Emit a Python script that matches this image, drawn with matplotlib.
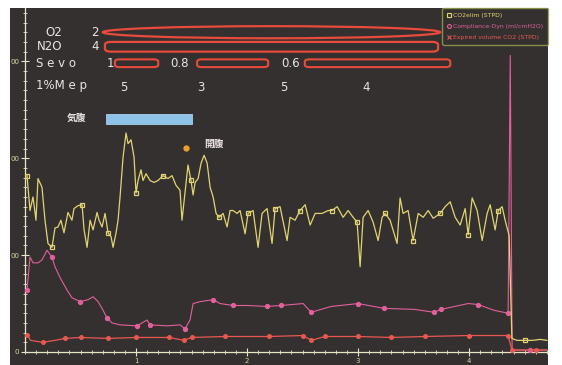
import numpy as np
import matplotlib
matplotlib.use("Agg")
import matplotlib.pyplot as plt
from matplotlib.patches import Ellipse, FancyBboxPatch, Rectangle
from matplotlib.lines import Line2D

# ---------------- data ----------------
co2_t = [0.018, 0.045, 0.072, 0.099, 0.117, 0.153, 0.18, 0.207, 0.243, 0.27, 0.297, 0.324,
         0.351, 0.387, 0.423, 0.441, 0.477, 0.514, 0.532, 0.559, 0.586, 0.613, 0.649, 0.667,
         0.694, 0.721, 0.748, 0.775, 0.793, 0.82, 0.838, 0.856, 0.883, 0.91, 0.928, 0.955,
         0.982, 1.0, 1.018, 1.045, 1.063, 1.09, 1.126, 1.162, 1.198, 1.243, 1.288, 1.324,
         1.36, 1.396, 1.414, 1.441, 1.468, 1.495, 1.514, 1.532, 1.559, 1.586, 1.613, 1.64,
         1.667, 1.694, 1.721, 1.748, 1.784, 1.82, 1.847, 1.874, 1.91, 1.937, 1.982, 2.009,
         2.054, 2.099, 2.135, 2.18, 2.225, 2.252, 2.297, 2.36, 2.387, 2.432, 2.477, 2.523,
         2.568, 2.613, 2.676, 2.73, 2.766, 2.811, 2.865, 2.91, 2.955, 2.991, 3.018, 3.045,
         3.09, 3.135, 3.18, 3.216, 3.243, 3.288, 3.351, 3.378, 3.405, 3.45, 3.495, 3.541,
         3.586, 3.631, 3.676, 3.739, 3.784, 3.829, 3.874, 3.919, 3.964, 3.991, 4.027, 4.072,
         4.117, 4.162, 4.189, 4.234, 4.262, 4.297, 4.324, 4.36, 4.385, 4.43, 4.5, 4.57,
         4.64, 4.7]
co2_v = [182, 146, 160, 136, 179, 170, 136, 112, 108, 128, 129, 136,
         123, 144, 136, 148, 151, 152, 126, 108, 136, 126, 144, 136,
         129, 143, 123, 119, 108, 123, 136, 160, 201, 226, 215, 219,
         201, 164, 177, 188, 177, 184, 177, 175, 177, 182, 179, 182,
         172, 167, 136, 164, 193, 177, 162, 175, 179, 195, 203, 195,
         170, 160, 143, 139, 143, 129, 146, 146, 143, 146, 122, 143,
         146, 108, 143, 148, 112, 148, 150, 115, 139, 136, 146, 152,
         131, 143, 143, 146, 146, 150, 139, 146, 139, 134, 88, 139,
         146, 134, 115, 139, 143, 136, 112, 159, 143, 146, 115, 143,
         139, 146, 138, 143, 150, 155, 139, 131, 148, 121, 159, 146,
         115, 143, 152, 126, 146, 150, 136, 120, 14, 12, 12, 12,
         13, 12]

comp_t = [0.018, 0.045, 0.072, 0.117, 0.153, 0.198, 0.243, 0.27, 0.315, 0.378, 0.423,
          0.495, 0.568, 0.613, 0.658, 0.694, 0.739, 0.784, 0.856, 1.009, 1.099, 1.126,
          1.279, 1.396, 1.441, 1.486, 1.514, 1.577, 1.694, 1.757, 1.874, 2.0, 2.18,
          2.306, 2.505, 2.577, 2.757, 3.0, 3.234, 3.505, 3.685, 3.748, 3.991, 4.081,
          4.225, 4.351, 4.37, 4.387, 4.45, 4.55, 4.63, 4.7]
comp_v = [64, 98, 92, 92, 95, 105, 98, 88, 77, 64, 56,
          52, 54, 57, 52, 45, 35, 30, 28, 27, 33, 28,
          27, 28, 24, 33, 50, 52, 54, 50, 48, 48, 47,
          48, 50, 41, 47, 50, 45, 44, 41, 44, 50, 49,
          43, 40, 306, 2, 2, 2, 2, 2]

exp_t = [0.018, 0.05, 0.16, 0.27, 0.36, 0.5, 0.75, 1.0, 1.3, 1.43, 1.5, 1.8, 2.2, 2.5,
         2.58, 2.7, 3.0, 3.3, 3.6, 4.0, 4.35, 4.385, 4.5, 4.6, 4.7]
exp_v = [18, 12, 10, 12, 14, 15, 14, 15, 15, 12, 15, 16, 16, 17,
         12, 16, 16, 15, 16, 17, 17, 2, 2, 2, 2]

series_labels = ["CO2elim (STPD)", "Compliance-Dyn (ml/cmH2O)", "Expired volume CO2 (STPD)"]

o2_label, o2_value = "O2", "2"
n2o_label, n2o_value = "N2O", "4"
sevo_label = "S e v o"
sevo_values = ["1", "0.8", "0.6"]
mep_label = "1%M e p"
mep_values = ["5", "3", "5", "4"]
event1, event2 = "気腹", "開腹"
yticks = [0, 100, 200, 300]
ytick_labels = ["0", "00", "00", "00"]
xticks = [1, 2, 3, 4]
xtick_labels = ["1", "2", "3", "4"]

# ---------------- style ----------------
BG = "#34302f"
YEL = "#e2d472"
PINK = "#e2609c"
RED = "#e85850"
TXT = "#ece4e4"
OUT = "#e84a3c"
AXC = "#e8e4c8"

plt.rcParams['font.family'] = ['DejaVu Sans', 'Noto Sans CJK JP']

fig = plt.figure(figsize=(5.62, 3.65), dpi=100, facecolor="white")
bgrect = Rectangle((10 / 562, 0), (548 - 10) / 562, 357 / 365,
                   transform=fig.transFigure, facecolor=BG, edgecolor="none", zorder=-10)
fig.patches.append(bgrect)

ax = fig.add_axes([25 / 562, 13 / 365, (548 - 25) / 562, (357 - 13) / 365])
ax.set_zorder(1)
ax.set_facecolor(BG)
ax.patch.set_alpha(0)
ax.set_xlim(0, 4.71)
ax.set_ylim(0, 355)

# series
def marker_idx(ts, step, start=0.0):
    ts = np.asarray(ts)
    idx = []
    for m in np.arange(start, ts.max() + 1e-9, step):
        i = int(np.argmin(np.abs(ts - m)))
        if i not in idx:
            idx.append(i)
    return idx

ax.plot(co2_t, co2_v, color=YEL, lw=0.9, marker="s", ms=3.2, mfc="none", mec=YEL, mew=0.9,
        markevery=marker_idx(co2_t, 0.25), zorder=4)
ax.plot(comp_t, comp_v, color=PINK, lw=0.8, marker="o", ms=2.8, mfc=PINK, mec=PINK,
        markevery=marker_idx(comp_t, 0.24), zorder=3)
ax.plot(exp_t, exp_v, color=RED, lw=0.9, marker="o", ms=2.6, mfc=RED, mec=RED,
        markevery=marker_idx(exp_t, 0.2), zorder=3)

# spines / ticks
for s in ["top", "right"]:
    ax.spines[s].set_visible(False)
for s in ["left", "bottom"]:
    ax.spines[s].set_color(AXC)
    ax.spines[s].set_linewidth(0.9)
ax.set_yticks(yticks)
ax.set_yticklabels(ytick_labels)
ax.set_yticks(np.arange(0, 351, 10), minor=True)
ax.set_xticks(xticks)
ax.set_xticklabels(xtick_labels)
ax.set_xticks(np.arange(0, 4.71, 0.1), minor=True)
ax.tick_params(axis="both", which="major", direction="inout", length=6, width=0.8,
               colors=AXC, labelsize=5, pad=1, labelcolor="#d8d8a0")
ax.tick_params(axis="both", which="minor", direction="inout", length=3, width=0.6, colors=AXC)

# gas / drug annotations
fs = 8.5
ax.text(0.18, 330, o2_label, color=TXT, fontsize=fs, va="center", ha="left")
ax.text(0.6, 330, o2_value, color=TXT, fontsize=fs, va="center", ha="left")
ax.add_patch(Ellipse((2.22, 330), 3.04, 12.5, facecolor="none", edgecolor=OUT, lw=1.6, zorder=3))

ax.text(0.11, 315, n2o_label, color=TXT, fontsize=fs, va="center", ha="left")
ax.text(0.6, 315, n2o_value, color=TXT, fontsize=fs, va="center", ha="left")
ax.add_patch(FancyBboxPatch((0.72, 310), 3.0, 10, boxstyle="round,pad=0,rounding_size=0.05",
                            mutation_aspect=60, facecolor="none", edgecolor=OUT, lw=1.6, zorder=3))

ax.text(0.1, 298, sevo_label, color=TXT, fontsize=fs, va="center", ha="left")
sevo_txt_x = [0.74, 1.31, 2.31]
sevo_bars = [(0.81, 1.20), (1.55, 2.19), (2.52, 3.83)]
for tx, val, (b0, b1) in zip(sevo_txt_x, sevo_values, sevo_bars):
    ax.text(tx, 298, val, color=TXT, fontsize=fs, va="center", ha="left")
    ax.add_patch(FancyBboxPatch((b0, 294), b1 - b0, 8, boxstyle="round,pad=0,rounding_size=0.04",
                                mutation_aspect=60, facecolor="none", edgecolor=OUT, lw=1.5, zorder=3))

ax.text(0.1, 275, mep_label, color=TXT, fontsize=fs, va="center", ha="left")
for tx, val in zip([0.86, 1.55, 2.3, 3.04], mep_values):
    ax.text(tx, 273, val, color=TXT, fontsize=fs, va="center", ha="left")

# events
ax.text(0.38, 242, event1, color=TXT, fontsize=7, fontweight="bold", va="center", ha="left",
        family=["Noto Sans CJK JP", "DejaVu Sans"])
ax.add_patch(Rectangle((0.73, 235), 0.77, 11, facecolor="#8ec2e6", edgecolor="#a8d0ee", lw=0.6, zorder=3))
ax.plot([1.45], [211], "o", color="#f0a028", ms=3.5, zorder=5)
ax.text(1.61, 215, event2, color=TXT, fontsize=7, fontweight="bold", va="center", ha="left",
        family=["Noto Sans CJK JP", "DejaVu Sans"])

# legend
handles = [Line2D([], [], ls="none", marker="s", ms=2.8, mfc="none", mec=YEL, mew=0.8),
           Line2D([], [], ls="none", marker="o", ms=2.8, mfc="none", mec=PINK, mew=0.8),
           Line2D([], [], ls="none", marker="x", ms=2.8, mec=RED, mew=0.8)]
leg = ax.legend(handles, series_labels, loc="upper right", bbox_to_anchor=(1.0, 1.0),
                fontsize=4.4, frameon=True, facecolor=BG, edgecolor="#9aa650",
                handlelength=0.6, handletextpad=0.35, borderpad=0.8, labelspacing=0.9,
                borderaxespad=0.0, fancybox=True, labelcolor=[YEL, PINK, RED])
leg.get_frame().set_linewidth(1.0)
leg.set_zorder(6)

fig.savefig("out.png", dpi=100, facecolor=fig.get_facecolor())
